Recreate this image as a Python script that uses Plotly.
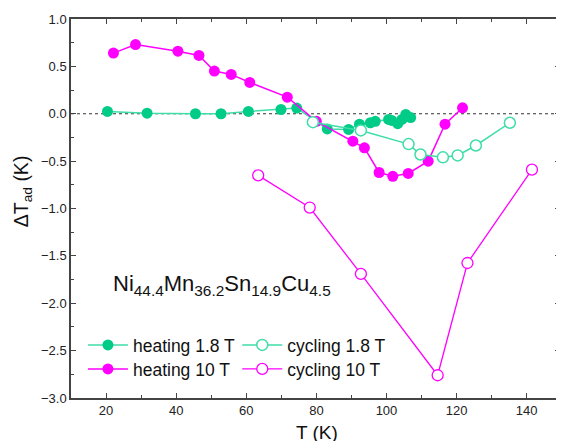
import plotly.graph_objects as go

# heating 1.8 T
h18_T = [20.4, 31.7, 45.5, 52.8, 60.6, 69.9, 74.4, 83.1, 89.2, 92.3, 95.4, 96.8, 100.6, 101.5, 103.2, 104.4, 105.5, 106.9]
h18_dT = [0.024, 0.006, 0.0, 0.0, 0.024, 0.045, 0.06, -0.16, -0.165, -0.11, -0.095, -0.08, -0.06, -0.07, -0.105, -0.06, -0.007, -0.04]
# heating 10 T
h10_T = [22.1, 28.4, 40.5, 46.5, 50.9, 55.7, 61.0, 71.7, 80.0, 90.4, 93.7, 97.9, 101.8, 106.2, 111.9, 116.7, 121.7]
h10_dT = [0.64, 0.73, 0.66, 0.615, 0.45, 0.415, 0.33, 0.175, -0.08, -0.29, -0.36, -0.62, -0.66, -0.63, -0.50, -0.11, 0.063]
# cycling 1.8 T
c18_T = [79.0, 92.7, 106.3, 109.7, 116.1, 120.3, 125.5, 135.2]
c18_dT = [-0.089, -0.176, -0.32, -0.43, -0.46, -0.44, -0.335, -0.095]
# cycling 10 T
c10_T = [63.4, 78.1, 92.7, 114.6, 123.1, 141.5]
c10_dT = [-0.65, -0.99, -1.69, -2.76, -1.575, -0.59]

GREEN = "#00CC88"
GREEN_L = "#3FDDA8"
MAG = "#FF00FF"
AX = "#444444"
FONT = "Liberation Sans, Arial, sans-serif"

fig = go.Figure()
fig.add_trace(go.Scatter(x=h18_T, y=h18_dT, mode="lines+markers", name="heating 1.8 T",
                         line=dict(color=GREEN_L, width=1.5),
                         marker=dict(color=GREEN, size=11, line=dict(width=0)), legend="legend"))
fig.add_trace(go.Scatter(x=h10_T, y=h10_dT, mode="lines+markers", name="heating 10 T",
                         line=dict(color=MAG, width=1.5),
                         marker=dict(color=MAG, size=11, line=dict(width=0)), legend="legend2"))
fig.add_trace(go.Scatter(x=c18_T, y=c18_dT, mode="lines+markers", name="cycling 1.8 T",
                         line=dict(color=GREEN_L, width=1.5),
                         marker=dict(color="white", size=11, line=dict(color=GREEN_L, width=1.5)), legend="legend3"))
fig.add_trace(go.Scatter(x=c10_T, y=c10_dT, mode="lines+markers", name="cycling 10 T",
                         line=dict(color=MAG, width=1.3),
                         marker=dict(color="white", size=11, line=dict(color=MAG, width=1.3)), legend="legend4"))

fig.add_shape(type="line", xref="paper", yref="y", x0=0, x1=1, y0=0, y1=0,
              line=dict(color="#333333", width=1.2, dash="dot"), layer="below")

axis_common = dict(showline=True, linecolor=AX, linewidth=1.5, mirror="allticks",
                   ticks="inside", ticklen=5, tickwidth=1.2, tickcolor=AX,
                   showgrid=False, zeroline=False,
                   tickfont=dict(family=FONT, size=13, color="#222222"))
fig.update_xaxes(range=[10, 149.5], tickvals=[20, 40, 60, 80, 100, 120, 140],
                 minor=dict(tickvals=[10, 30, 50, 70, 90, 110, 130], ticks="inside", ticklen=3, tickcolor=AX, tickwidth=1.2),
                 **axis_common)
fig.update_yaxes(range=[-3, 1], tickvals=[-3, -2.5, -2, -1.5, -1, -0.5, 0, 0.5, 1],
                 ticktext=["\u22123.0", "\u22122.5", "\u22122.0", "\u22121.5", "\u22121.0", "\u22120.5", "0.0", "0.5", "1.0"],
                 minor=dict(tickvals=[-2.75, -2.25, -1.75, -1.25, -0.75, -0.25, 0.25, 0.75], ticks="inside", ticklen=3, tickcolor=AX, tickwidth=1.2),
                 **axis_common)

fig.add_annotation(text="\u0394T<sub>ad</sub> (K)", xref="paper", yref="paper",
                   x=-0.1, y=0.546, xanchor="center", yanchor="middle", textangle=-90,
                   showarrow=False, font=dict(family=FONT, size=19.5, color="#111111"))
fig.add_annotation(text="T (K)", xref="paper", yref="paper",
                   x=0.503, y=-0.09, xanchor="center", yanchor="middle",
                   showarrow=False, font=dict(family=FONT, size=19, color="#111111"))
fig.add_annotation(text="Ni<sub>44.4</sub>Mn<sub>36.2</sub>Sn<sub>14.9</sub>Cu<sub>4.5</sub>",
                   xref="paper", yref="paper", x=0.309, y=0.298, xanchor="center", yanchor="middle",
                   showarrow=False, font=dict(family=FONT, size=22, color="#111111"))

leg_common = dict(bgcolor="rgba(0,0,0,0)", font=dict(family=FONT, size=17.5, color="#111111"),
                  xanchor="left", yanchor="middle", tracegroupgap=0, itemwidth=40)
fig.update_layout(
    width=556, height=433,
    margin=dict(l=63, r=2, t=11, b=43),
    plot_bgcolor="white", paper_bgcolor="white",
    showlegend=True,
    legend=dict(x=0.0244, y=0.1397, **leg_common),
    legend2=dict(x=0.0244, y=0.0764, **leg_common),
    legend3=dict(x=0.340, y=0.1397, **leg_common),
    legend4=dict(x=0.340, y=0.0764, **leg_common),
)
fig.write_html("out.html")
